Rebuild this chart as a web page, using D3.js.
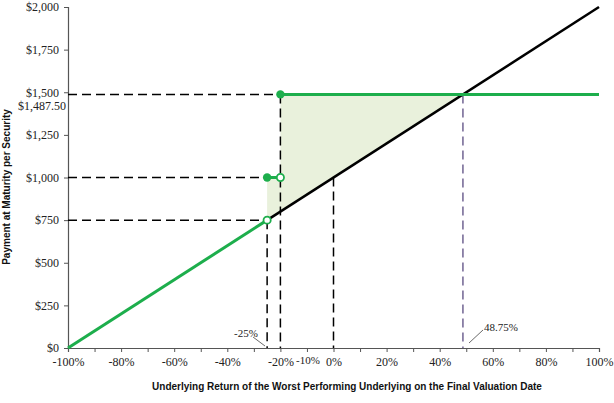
<!DOCTYPE html>
<html>
<head>
<meta charset="utf-8">
<script src="https://cdn.jsdelivr.net/npm/d3@7"></script>
<style>
  body { margin: 0; background: #fff; }
  svg { display: block; }
</style>
</head>
<body>
<svg id="chart" width="614" height="403"></svg>
<script>
// payoff data, returns in %, payments in $
const payoffDown = [[-100, 0], [-25, 750]];
const payoffUnderlying = [[-25, 750], [100, 2000]];
const capLine = [[-20, 1487.5], [100, 1487.5]];
const jumpLine = [[-25, 1000], [-20, 1000]];
const shaded = [[-25, 750], [-25, 1000], [-20, 1000], [-20, 1487.5], [48.75, 1487.5]];
const filledDots = [[-25, 1000], [-20, 1487.5]];
const openDots = [[-25, 750], [-20, 1000]];
const hGuides = [[-20, 1487.5], [-25, 1000], [-25, 750]];
const vGuides = [[-25, 750], [-20, 1487.5], [0, 1000]];
const breakEven = [48.75, 1487.5];
const xTicks = [-100, -80, -60, -40, -20, 0, 20, 40, 60, 80, 100];
const xMinor = d3.range(-100, 101, 10);
const yTicks = [0, 250, 500, 750, 1000, 1250, 1500, 1750, 2000];

const green = "#1dae4c";
const svg = d3.select("#chart");

const x = d3.scaleLinear().domain([-100, 100]).range([68, 599]);
const y = d3.scaleLinear().domain([0, 2000]).range([348, 7]);
const line = d3.line().x(d => x(d[0])).y(d => y(d[1]));

// shaded gain area
svg.append("path")
    .attr("d", line(shaded) + "Z")
    .attr("fill", "#e9f1dc");

// axes
const serif = "'Liberation Serif', 'Times New Roman', serif";
const xAxis = svg.append("g").attr("transform", `translate(0,${y(0)})`)
    .call(d3.axisBottom(x).tickValues(xMinor).tickSize(4).tickFormat(d => xTicks.includes(d) ? d + "%" : ""));
const yAxis = svg.append("g").attr("transform", `translate(${x(-100)},0)`)
    .call(d3.axisLeft(y).tickValues(yTicks).tickSize(4).tickFormat(d => "$" + d3.format(",")(d)));
[xAxis, yAxis].forEach(g => {
    g.select(".domain").attr("stroke", "#555").attr("stroke-width", 1.2);
    g.selectAll(".tick line").attr("stroke", "#555");
    g.selectAll("text").attr("font-family", serif).attr("font-size", 12).attr("fill", "#222");
});
xAxis.selectAll("text").attr("dy", "0.95em");
yAxis.selectAll("text").attr("dx", "-2");

// dashed guide lines
svg.append("g").selectAll("line").data(hGuides).join("line")
    .attr("x1", x(-100)).attr("x2", d => x(d[0]))
    .attr("y1", d => y(d[1])).attr("y2", d => y(d[1]))
    .attr("stroke", "#000").attr("stroke-width", 1.5).attr("stroke-dasharray", "9,5");
svg.append("g").selectAll("line").data(vGuides).join("line")
    .attr("x1", d => x(d[0])).attr("x2", d => x(d[0]))
    .attr("y1", d => y(d[1])).attr("y2", y(0))
    .attr("stroke", "#000").attr("stroke-width", 1.5).attr("stroke-dasharray", "9,5");
svg.append("line")
    .attr("x1", x(breakEven[0])).attr("x2", x(breakEven[0]))
    .attr("y1", y(breakEven[1])).attr("y2", y(0))
    .attr("stroke", "#66588a").attr("stroke-width", 1.4).attr("stroke-dasharray", "9,5");

// payoff lines
svg.append("path").attr("d", line(payoffUnderlying))
    .attr("fill", "none").attr("stroke", "#000").attr("stroke-width", 2.5);
[payoffDown, capLine, jumpLine].forEach(seg => {
    svg.append("path").attr("d", line(seg))
        .attr("fill", "none").attr("stroke", green).attr("stroke-width", 3);
});

svg.append("g").selectAll("circle").data(filledDots).join("circle")
    .attr("cx", d => x(d[0])).attr("cy", d => y(d[1])).attr("r", 4.2)
    .attr("fill", green);
svg.append("g").selectAll("circle").data(openDots).join("circle")
    .attr("cx", d => x(d[0])).attr("cy", d => y(d[1])).attr("r", 3.6)
    .attr("fill", "#fff").attr("stroke", green).attr("stroke-width", 1.8);

// annotations
svg.append("text").attr("x", x(-100) - 2).attr("y", y(1487.5) + 16)
    .attr("text-anchor", "end").attr("font-family", serif).attr("font-size", 12).attr("fill", "#222")
    .text("$1,487.50");
svg.append("text").attr("x", 246).attr("y", 337)
    .attr("text-anchor", "middle").attr("font-family", serif).attr("font-size", 11).attr("fill", "#222")
    .text("-25%");
svg.append("line").attr("x1", 253).attr("y1", 337).attr("x2", 265).attr("y2", 346)
    .attr("stroke", "#444").attr("stroke-width", 0.8);
svg.append("text").attr("x", 308).attr("y", 364)
    .attr("text-anchor", "middle").attr("font-family", serif).attr("font-size", 11).attr("fill", "#222")
    .text("-10%");
svg.append("text").attr("x", 501).attr("y", 331)
    .attr("text-anchor", "middle").attr("font-family", serif).attr("font-size", 11).attr("fill", "#222")
    .text("48.75%");
svg.append("line").attr("x1", 483).attr("y1", 330).attr("x2", 469).attr("y2", 343)
    .attr("stroke", "#444").attr("stroke-width", 0.8);

// axis titles
const sans = "'Liberation Sans', Arial, sans-serif";
svg.append("text").attr("x", 347).attr("y", 390)
    .attr("text-anchor", "middle").attr("font-family", sans).attr("font-size", 10)
    .attr("font-weight", "bold").attr("fill", "#111")
    .text("Underlying Return of the Worst Performing Underlying on the Final Valuation Date");
svg.append("text").attr("transform", "translate(10,187) rotate(-90)")
    .attr("text-anchor", "middle").attr("font-family", sans).attr("font-size", 10)
    .attr("font-weight", "bold").attr("fill", "#111")
    .text("Payment at Maturity per Security");
</script>
</body>
</html>
